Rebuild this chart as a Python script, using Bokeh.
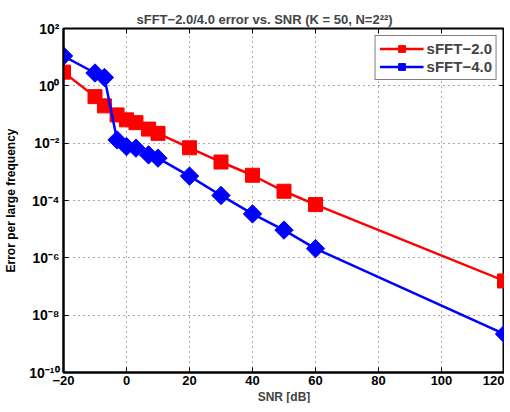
import math
from bokeh.plotting import figure
from bokeh.models import FixedTicker, ColumnDataSource, Legend, LegendItem, LogAxis, LinearAxis, Title
from bokeh.embed import file_html
from bokeh.resources import INLINE

snr = [-20, -10, -7, -3, 0, 3, 7, 10, 20, 30, 40, 50, 60, 120]
err_sfft2 = [3.0, 0.42, 0.2, 0.097, 0.065, 0.052, 0.031, 0.022, 0.0069, 0.0022, 7.6e-4, 2.1e-4, 7.2e-5, 1.56e-7]
err_sfft4 = [11.0, 2.8, 1.95, 0.013, 0.0076, 0.0067, 0.0039, 0.003, 7.1e-4, 1.5e-4, 3.4e-5, 9.3e-6, 2.1e-6, 2.2e-9]
x_ticks = [-20, 0, 20, 40, 60, 80, 100, 120]
y_exps = [-10, -8, -6, -4, -2, 0, 2]
series_names = ["sFFT\u22122.0", "sFFT\u22124.0"]
title_text = "sFFT\u22122.0/4.0 error vs. SNR (K = 50, N=2\u00b2\u00b2)"
x_label = "SNR [dB]"
y_label = "Error per large frequency"

SUP = str.maketrans("-0123456789", "\u207b\u2070\u00b9\u00b2\u00b3\u2074\u2075\u2076\u2077\u2078\u2079")
FONT = "Liberation Sans"

p = figure(width=504, height=403, output_backend="svg", toolbar_location=None,
           x_range=(-20, 120), y_range=(1e-10, 1e2), y_axis_type="log",
           min_border_left=63, min_border_right=0, min_border_top=28, min_border_bottom=20,
           title=title_text)

p.title.text_font = FONT
p.title.text_font_style = "bold"
p.title.text_font_size = "13px"
p.title.align = "left"
p.title.offset = 73
p.title.standoff = 3

p.outline_line_color = "black"
p.outline_line_width = 2
p.background_fill_color = "white"
p.border_fill_color = "white"

src = ColumnDataSource(dict(x=snr, a=err_sfft2, b=err_sfft4))
l1 = p.line("x", "a", source=src, line_color="red", line_width=2.5)
m1 = p.scatter("x", "a", source=src, marker="square", size=14, fill_color="red", line_color="red")
l2 = p.line("x", "b", source=src, line_color="blue", line_width=2.5)
m2 = p.scatter("x", "b", source=src, marker="square", angle=math.pi / 4, size=13,
               fill_color="blue", line_color="blue")

xa = p.xaxis[0]
xa.ticker = FixedTicker(ticks=x_ticks)
xa.major_label_overrides = {t: (str(t).replace("-", "\u2212")) for t in x_ticks}
ya = p.yaxis[0]
yticks = [10.0 ** e for e in y_exps]
ya.ticker = FixedTicker(ticks=yticks)
ya.major_label_overrides = {10.0 ** e: "10" + str(e).translate(SUP) for e in y_exps}
ya.axis_label = y_label

for ax in (xa, ya):
    ax.axis_line_width = 2
    ax.axis_line_color = "black"
    ax.major_tick_in = 5
    ax.major_tick_out = 0
    ax.major_tick_line_width = 1
    ax.minor_tick_line_color = None
    ax.major_label_text_font = FONT
    ax.major_label_text_font_style = "bold"
    ax.major_label_text_font_size = "13px"
    ax.major_label_text_color = "black"
    ax.axis_label_text_font = FONT
    ax.axis_label_text_font_style = "bold"
    ax.axis_label_text_font_size = "12px"
    ax.axis_label_text_color = "black"
ya.major_label_text_font_size = "14px"
xa.major_label_standoff = 3
ya.major_label_standoff = 4
ya.axis_label_standoff = 8

xt = Title(text=x_label, align="center", text_font=FONT, text_font_style="bold",
           text_font_size="12px", standoff=0, offset=0)
p.add_layout(xt, "below")

# inward ticks on the opposite sides (box axes)
ra = LogAxis(ticker=FixedTicker(ticks=yticks), major_label_text_font_size="0px",
             axis_line_color=None, major_tick_in=5, major_tick_out=0,
             minor_tick_line_color=None, major_label_standoff=0)
ra.major_label_overrides = {10.0 ** e: "" for e in y_exps}
p.add_layout(ra, "right")
ta = LinearAxis(ticker=FixedTicker(ticks=x_ticks), major_label_text_font_size="0px",
                axis_line_color=None, major_tick_in=5, major_tick_out=0,
                minor_tick_line_color=None, major_label_standoff=0)
ta.major_label_overrides = {t: "" for t in x_ticks}
p.add_layout(ta, "above")

for g in (p.xgrid[0], p.ygrid[0]):
    g.grid_line_color = "#555555"
    g.grid_line_dash = "1 4"
    g.grid_line_width = 1
    g.minor_grid_line_color = None
p.xgrid[0].ticker = xa.ticker
p.ygrid[0].ticker = ya.ticker

legend = Legend(items=[LegendItem(label=series_names[0], renderers=[l1, m1]),
                       LegendItem(label=series_names[1], renderers=[l2, m2])],
                location="top_right")
legend.border_line_color = "black"
legend.border_line_width = 1.5
legend.label_text_font = FONT
legend.label_text_font_style = "bold"
legend.label_text_font_size = "15px"
legend.glyph_width = 44
legend.glyph_height = 17
legend.spacing = 1
legend.padding = 4
legend.margin = 7
legend.label_standoff = 3
legend.background_fill_alpha = 1
p.add_layout(legend)

open("out.html", "w").write(file_html(p, INLINE))
